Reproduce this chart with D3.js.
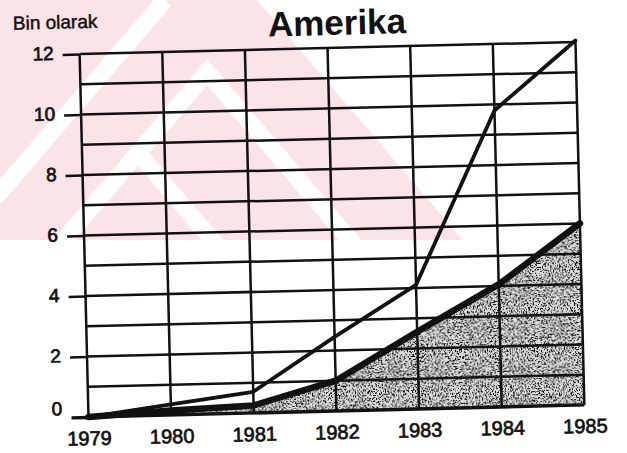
<!DOCTYPE html>
<html>
<head>
<meta charset="utf-8">
<script src="https://cdn.jsdelivr.net/npm/d3@7"></script>
<style>
  html, body { margin: 0; padding: 0; background: #fff; }
  svg { display: block; font-family: "Liberation Sans", Arial, sans-serif; }
</style>
</head>
<body>
<div id="chart"></div>
<script>
// Amerika: two series, in thousands ("Bin olarak"), 1979-1985
const years = [1979, 1980, 1981, 1982, 1983, 1984, 1985];
const upperSeries = [0, 0.35, 0.7, 2.45, 4.1, 9.8, 12.05];
const lowerSeries = [0, 0.15, 0.25, 1.0, 2.55, 4.05, 6.0];
const yTickValues = [0, 2, 4, 6, 8, 10, 12];
const gridValues = [0, 1, 2, 3, 4, 5, 6, 7, 8, 9, 10, 11, 12];
const chartTitle = "Amerika";
const unitLabel = "Bin olarak";

const W = 627, H = 453;
const margin = { top: 48, right: 47, bottom: 42, left: 84 };
const width = W - margin.left - margin.right;
const height = H - margin.top - margin.bottom;
const ink = "#111";

const svg = d3.select('#chart')
  .append('svg')
  .attr('width', W)
  .attr('height', H);

// faint pink watermark behind the scan
const wm = svg.append('g');
wm.append('path')
  .attr('d', 'M0,0 L257,0 L463,240 L0,240 Z')
  .attr('fill', '#fbe4e8');
wm.selectAll('path.gap')
  .data([
    'M165,0 L-5,198',
    'M40,268 L207,72 L374,268',
    'M133,147 L226,256'
  ])
  .enter()
  .append('path')
  .attr('class', 'gap')
  .attr('d', d => d)
  .attr('fill', 'none')
  .attr('stroke', '#fff')
  .attr('stroke-width', 17);

// stipple texture for the shaded area
const defs = svg.append('defs');
const stipple = defs.append('filter')
  .attr('id', 'stipple')
  .attr('x', 0).attr('y', 0).attr('width', 1).attr('height', 1);
stipple.append('feTurbulence')
  .attr('type', 'fractalNoise')
  .attr('baseFrequency', 0.7)
  .attr('numOctaves', 2)
  .attr('seed', 7)
  .attr('result', 'noise');
stipple.append('feColorMatrix')
  .attr('in', 'noise')
  .attr('type', 'matrix')
  .attr('values', '0 0 0 0 0  0 0 0 0 0  0 0 0 0 0  8 0 0 0 -4.1')
  .attr('result', 'dots');
stipple.append('feComposite')
  .attr('in', 'dots')
  .attr('in2', 'SourceAlpha')
  .attr('operator', 'in');

// the scanned page is slightly rotated
const page = svg.append('g')
  .attr('transform', 'rotate(-1.4 332 230)');

const g = page.append('g')
  .attr('transform', `translate(${margin.left},${margin.top})`);

const x = d3.scaleLinear()
  .domain([years[0], years[years.length - 1]])
  .range([0, width]);

const y = d3.scaleLinear()
  .domain([0, 12])
  .range([height, 0]);

const rows = years.map((yr, i) => ({ year: yr, upper: upperSeries[i], lower: lowerSeries[i] }));

// shaded area under the lower series
const area = d3.area()
  .x(d => x(d.year))
  .y0(y(0))
  .y1(d => y(d.lower));

g.append('path')
  .datum(rows)
  .attr('d', area)
  .attr('fill', '#dedede');

g.append('path')
  .datum(rows)
  .attr('d', area)
  .attr('fill', '#000')
  .attr('filter', 'url(#stipple)');

// grid
g.selectAll('.hgrid')
  .data(gridValues)
  .enter()
  .append('line')
  .attr('class', 'hgrid')
  .attr('x1', x(years[0]))
  .attr('x2', x(years[years.length - 1]))
  .attr('y1', d => y(d))
  .attr('y2', d => y(d))
  .attr('stroke', ink)
  .attr('stroke-width', d => d === 0 ? 3.4 : 2.5);

g.selectAll('.vgrid')
  .data(years)
  .enter()
  .append('line')
  .attr('class', 'vgrid')
  .attr('x1', d => x(d))
  .attr('x2', d => x(d))
  .attr('y1', y(12))
  .attr('y2', y(0))
  .attr('stroke', ink)
  .attr('stroke-width', 2.5);

// Y axis
const yAxis = g.append('g')
  .call(d3.axisLeft(y).tickValues(yTickValues).tickSize(17).tickPadding(9));
yAxis.select('.domain').remove();
yAxis.selectAll('.tick line').attr('stroke', ink).attr('stroke-width', d => d === 0 ? 3.4 : 2.5);
yAxis.selectAll('.tick text')
  .attr('font-size', 19)
  .attr('fill', ink)
  .attr('dy', d => d === 0 ? '-0.15em' : '0.25em');

// X axis
const xAxis = g.append('g')
  .attr('transform', `translate(0,${height})`)
  .call(d3.axisBottom(x).tickValues(years).tickSize(0).tickPadding(14).tickFormat(d3.format('d')));
xAxis.select('.domain').remove();
xAxis.selectAll('.tick text')
  .attr('font-size', 20)
  .attr('fill', ink);

page.selectAll('.tick text')
  .attr('stroke', ink)
  .attr('stroke-width', 0.7);

// lines
const upperLine = d3.line().x(d => x(d.year)).y(d => y(d.upper));
const lowerLine = d3.line().x(d => x(d.year)).y(d => y(d.lower));

g.append('path')
  .datum(rows)
  .attr('d', upperLine)
  .attr('fill', 'none')
  .attr('stroke', ink)
  .attr('stroke-width', 3.8)
  .attr('stroke-linejoin', 'round')
  .attr('stroke-linecap', 'round');

g.append('path')
  .datum(rows)
  .attr('d', lowerLine)
  .attr('fill', 'none')
  .attr('stroke', ink)
  .attr('stroke-width', 6.5)
  .attr('stroke-linejoin', 'round')
  .attr('stroke-linecap', 'round');

// title and unit label
page.append('text')
  .attr('x', 342)
  .attr('y', 35)
  .attr('text-anchor', 'middle')
  .attr('font-size', 35)
  .attr('font-weight', 'bold')
  .attr('fill', ink)
  .text(chartTitle);

page.append('text')
  .attr('x', 18)
  .attr('y', 22)
  .attr('font-size', 19)
  .attr('fill', ink)
  .attr('stroke', ink)
  .attr('stroke-width', 0.5)
  .text(unitLabel);
</script>
</body>
</html>
